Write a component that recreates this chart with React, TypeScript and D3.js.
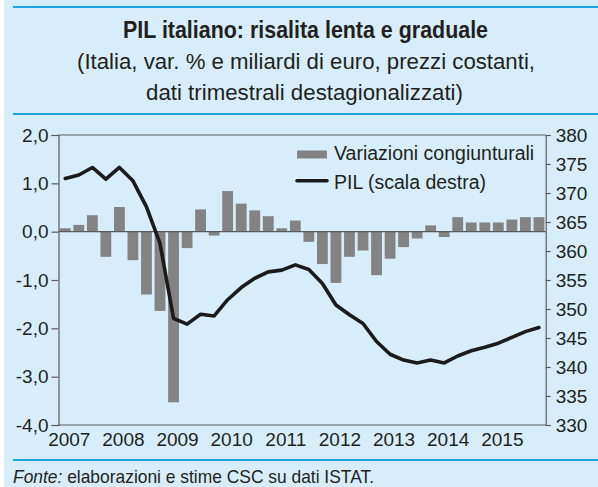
import React, { useRef, useEffect } from 'react';
import * as d3 from 'd3';

// trimestri 2007T1 - 2015T4
const years = ['2007', '2008', '2009', '2010', '2011', '2012', '2013', '2014', '2015'];
const quarters = years.flatMap(y => ['T1', 'T2', 'T3', 'T4'].map(q => y + q));

// variazioni congiunturali (%)
const variazioni = [
  0.07, 0.14, 0.34, -0.52,
  0.51, -0.59, -1.30, -1.64,
  -3.53, -0.34, 0.46, -0.08,
  0.84, 0.58, 0.44, 0.32,
  0.07, 0.23, -0.21, -0.67,
  -1.06, -0.52, -0.39, -0.90,
  -0.56, -0.32, -0.14, 0.13,
  -0.11, 0.30, 0.19, 0.19,
  0.19, 0.25, 0.30, 0.30,
];

// PIL, miliardi di euro (scala destra)
const pil = [
  372.5, 373.1, 374.4, 372.4,
  374.4, 372.1, 367.6, 361.3,
  348.4, 347.4, 349.1, 348.8,
  351.6, 353.7, 355.3, 356.4,
  356.7, 357.6, 356.8, 354.4,
  350.7, 349.0, 347.5, 344.4,
  342.2, 341.2, 340.7, 341.2,
  340.7, 341.9, 342.8, 343.4,
  344.1, 345.1, 346.1, 346.8,
];

const leftTicks = [-4, -3, -2, -1, 0, 1, 2];
const rightTicks = [330, 335, 340, 345, 350, 355, 360, 365, 370, 375, 380];

const App = () => {
  const svgRef = useRef<SVGSVGElement>(null);

  useEffect(() => {
    const width = 598;
    const height = 487;
    const left = 58.5;
    const right = 545.7;
    const top = 135;
    const bottom = 425;

    const svg = d3.select(svgRef.current);
    svg.selectAll('*').remove();
    svg.attr('width', width).attr('height', height);

    const blue = '#1ea3e4';
    const axisColor = '#5a5a5a';
    const sans = '"Liberation Sans", Arial, sans-serif';
    // niente Helvetica Condensed: Liberation Sans compressa con textLength
    const narrow = '"Liberation Sans Narrow", "Liberation Sans", Arial, sans-serif';

    // sfondo
    svg.append('rect').attr('x', 4).attr('y', 0).attr('width', width - 4).attr('height', height).attr('fill', '#d7eefa');

    // linee blu
    [7, 114, 460].forEach(y => {
      svg.append('line').attr('x1', 13).attr('x2', width).attr('y1', y).attr('y2', y)
        .attr('stroke', blue).attr('stroke-width', 2);
    });

    // titolo
    svg.append('text').attr('x', 305.5).attr('y', 38).attr('text-anchor', 'middle')
      .attr('font-family', narrow).attr('font-weight', 'bold').attr('font-size', 24)
      .attr('fill', '#231f20').attr('textLength', 365).attr('lengthAdjust', 'spacingAndGlyphs')
      .text('PIL italiano: risalita lenta e graduale');
    svg.append('text').attr('x', 306).attr('y', 69).attr('text-anchor', 'middle')
      .attr('font-family', narrow).attr('font-size', 22.5)
      .attr('fill', '#231f20').attr('textLength', 458).attr('lengthAdjust', 'spacingAndGlyphs')
      .text('(Italia, var. % e miliardi di euro, prezzi costanti,');
    svg.append('text').attr('x', 304.5).attr('y', 100).attr('text-anchor', 'middle')
      .attr('font-family', narrow).attr('font-size', 22.5)
      .attr('fill', '#231f20').attr('textLength', 317).attr('lengthAdjust', 'spacingAndGlyphs')
      .text('dati trimestrali destagionalizzati)');

    // fonte
    const fonte = svg.append('text').attr('x', 13).attr('y', 483)
      .attr('font-family', narrow).attr('font-size', 18.5).attr('fill', '#231f20')
      .attr('textLength', 361).attr('lengthAdjust', 'spacingAndGlyphs');
    fonte.append('tspan').attr('font-style', 'italic').text('Fonte:');
    fonte.append('tspan').text(' elaborazioni e stime CSC su dati ISTAT.');

    // scale
    const x = d3.scaleBand().domain(quarters).range([left, right]).paddingInner(0.2).paddingOuter(0.1);
    const yL = d3.scaleLinear().domain([-4, 2]).range([bottom, top]);
    const yR = d3.scaleLinear().domain([330, 380]).range([bottom, top]);

    // barre
    svg.append('g').selectAll('rect').data(variazioni).join('rect')
      .attr('x', (d, i) => x(quarters[i])!)
      .attr('width', x.bandwidth())
      .attr('y', d => yL(Math.max(0, d)))
      .attr('height', d => Math.abs(yL(d) - yL(0)))
      .attr('fill', '#838383');

    // linea dello zero e cornice
    [yL(0), top, bottom].forEach(y => {
      svg.append('line').attr('x1', left).attr('x2', right).attr('y1', y).attr('y2', y)
        .attr('stroke', axisColor).attr('stroke-width', 1.2);
    });

    // asse sinistro
    const gL = svg.append('g').attr('transform', `translate(${left},0)`)
      .call(d3.axisLeft(yL).tickValues(leftTicks).tickSize(7).tickPadding(3)
        .tickFormat(d => (d as number).toFixed(1).replace('.', ',')));
    // asse destro
    const gR = svg.append('g').attr('transform', `translate(${right},0)`)
      .call(d3.axisRight(yR).tickValues(rightTicks).tickSize(5).tickPadding(5));
    [gL, gR].forEach(g => {
      g.select('.domain').attr('stroke', axisColor).attr('stroke-width', 1.2);
      g.selectAll('.tick line').attr('stroke', axisColor).attr('stroke-width', 1.2);
      g.selectAll('.tick text').attr('font-family', sans).attr('font-size', 19).attr('fill', '#231f20');
    });

    // etichette anni
    svg.append('g').selectAll('text').data(years).join('text')
      .attr('x', d => x(d + 'T1')! + x.bandwidth() / 2 + 4)
      .attr('y', 446)
      .attr('text-anchor', 'middle')
      .attr('font-family', sans).attr('font-size', 19).attr('fill', '#231f20')
      .text(d => d);

    // linea PIL
    const line = d3.line<number>()
      .x((d, i) => x(quarters[i])! + x.bandwidth() / 2)
      .y(d => yR(d));
    svg.append('path').datum(pil).attr('d', line)
      .attr('fill', 'none').attr('stroke', '#1c1a1b').attr('stroke-width', 3.6)
      .attr('stroke-linejoin', 'round').attr('stroke-linecap', 'round');

    // legenda
    svg.append('rect').attr('x', 297).attr('y', 150.5).attr('width', 30).attr('height', 8).attr('fill', '#838383');
    svg.append('text').attr('x', 334).attr('y', 159.5)
      .attr('font-family', sans).attr('font-size', 19.5).attr('fill', '#231f20')
      .text('Variazioni congiunturali');
    svg.append('line').attr('x1', 297).attr('x2', 327).attr('y1', 180.7).attr('y2', 180.7)
      .attr('stroke', '#1c1a1b').attr('stroke-width', 3.6).attr('stroke-linecap', 'round');
    svg.append('text').attr('x', 334).attr('y', 188.5)
      .attr('font-family', sans).attr('font-size', 19.5).attr('fill', '#231f20')
      .text('PIL (scala destra)');
  }, []);

  return (
    <svg ref={svgRef} style={{ position: 'absolute', left: 0, top: 0, display: 'block' }}></svg>
  );
};

export default App;
